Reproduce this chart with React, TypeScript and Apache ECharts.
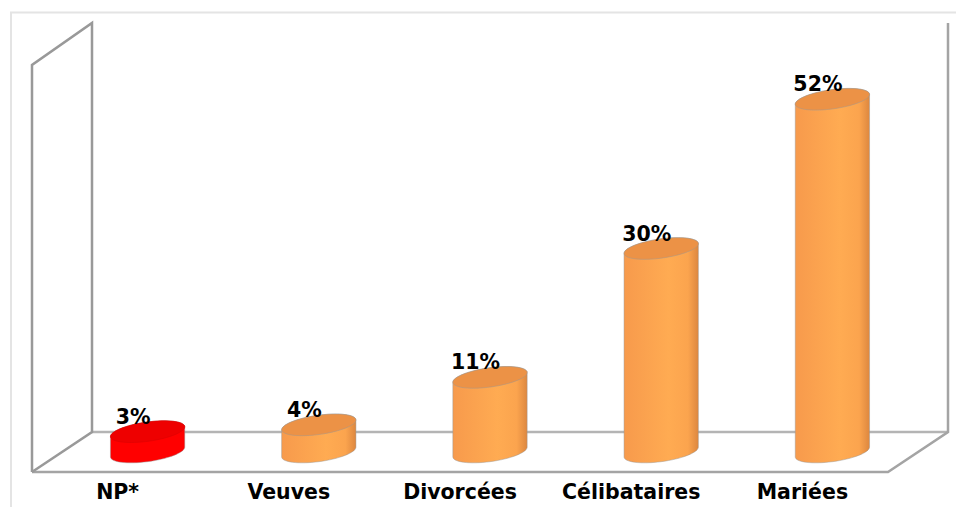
import React, { useEffect, useRef } from "react";
import * as echarts from "echarts";

const categories = ["NP*", "Veuves", "Divorcées", "Célibataires", "Mariées"];
const values = [3, 4, 11, 30, 52];
const labels = ["3%", "4%", "11%", "30%", "52%"];
const highlighted = ["NP*"];

const RX = 37.5, RY = 9.6, ROT = 8;
const DEPTH_X = 30, DEPTH_Y = 20;
const STEPS = 64;

// Point on the tilted ellipse outline at parameter a (tilt rises to the right).
function ellipsePoint(cx: number, cy: number, a: number) {
  const r = (ROT * Math.PI) / 180;
  const ex = RX * Math.cos(a);
  const ey = RY * Math.sin(a);
  return [cx + ex * Math.cos(r) + ey * Math.sin(r), cy - ex * Math.sin(r) + ey * Math.cos(r)];
}

function toPath(points: number[][]) {
  return "M" + points.map((p) => `${p[0].toFixed(2)} ${p[1].toFixed(2)}`).join("L") + "Z";
}

function cylinderItem(params: any, api: any) {
  const i = api.value(0);
  const base = api.coord([i, 0]);
  const top = api.coord([i, api.value(1)]);
  const cx = base[0] + DEPTH_X;
  const by = base[1] - DEPTH_Y;
  const ty = top[1] - DEPTH_Y;
  const r = (ROT * Math.PI) / 180;
  const t = Math.atan((RY / RX) * Math.tan(r)); // parameter of the rightmost point
  const capPts: number[][] = [];
  for (let k = 0; k < STEPS; k++) capPts.push(ellipsePoint(cx, ty, (k / STEPS) * 2 * Math.PI));
  const bodyPts: number[][] = [];
  // top edge: rightmost -> leftmost through the upper side, then down and back along the lower side
  for (let k = 0; k <= STEPS / 2; k++) bodyPts.push(ellipsePoint(cx, ty, t - (k / (STEPS / 2)) * Math.PI));
  for (let k = 0; k <= STEPS / 2; k++) bodyPts.push(ellipsePoint(cx, by, t + Math.PI - (k / (STEPS / 2)) * Math.PI));
  const red = highlighted.includes(categories[i]);
  const bodyFill = red
    ? "#ff0000"
    : new echarts.graphic.LinearGradient(0, 0, 1, 0, [
        { offset: 0, color: "#f79a4c" },
        { offset: 0.6, color: "#ffab52" },
        { offset: 0.86, color: "#fba44e" },
        { offset: 1, color: "#dd873f" },
      ]);
  const edge = "rgba(150,150,150,0.45)";
  return {
    type: "group",
    children: [
      { type: "path", shape: { pathData: toPath(bodyPts) }, style: { fill: bodyFill, stroke: edge, lineWidth: 1 }, z2: 1 },
      { type: "path", shape: { pathData: toPath(capPts) }, style: { fill: red ? "#ee0000" : "#ec9246", stroke: red ? "rgba(220,0,0,0.6)" : edge, lineWidth: 1 }, z2: 2 },
      { type: "text", x: cx - 14.5, y: ty - 15,
        style: { text: labels[i], fill: "#000", font: 'bold 20.5px "DejaVu Sans"', align: "center", verticalAlign: "middle" }, z2: 3 },
    ],
  };
}

const frameLine = (points: number[][], stroke: string, lineWidth = 2.5) => ({
  type: "polyline", shape: { points }, style: { stroke, fill: "none", lineWidth }, silent: true,
});

export default function App() {
  const ref = useRef<HTMLDivElement>(null);
  useEffect(() => {
    document.body.style.margin = "0";
    const chart = echarts.init(ref.current!, null, { renderer: "svg" });
    chart.setOption({
      animation: false,
      backgroundColor: "#fff",
      grid: { left: 32, right: 68, top: 65, bottom: 35 },
      xAxis: {
        type: "category",
        data: categories,
        axisLine: { show: false },
        axisTick: { show: false },
        axisLabel: { color: "#000", fontFamily: "DejaVu Sans", fontWeight: "bold", fontSize: 20.5, margin: 9, interval: 0 },
      },
      yAxis: { type: "value", min: 0, max: 60, show: false, splitLine: { show: false } },
      graphic: [
        frameLine([[11, 507], [11, 12.5], [956, 12.5]], "#e4e4e4", 2),
        frameLine([[92, 432], [948, 432]], "#b4b4b4"),
        frameLine([[948, 23], [948, 432], [888, 472], [32, 472]], "#a4a4a4"),
        frameLine([[32, 472], [92, 432], [92, 23], [32, 65], [32, 472]], "#999999"),
      ],
      series: [
        {
          type: "custom",
          coordinateSystem: "cartesian2d",
          clip: false,
          data: values.map((v, i) => [i, v]),
          encode: { x: 0, y: 1 },
          renderItem: cylinderItem,
        },
      ],
    });
    return () => chart.dispose();
  }, []);
  return <div ref={ref} style={{ width: 956, height: 507 }} />;
}
